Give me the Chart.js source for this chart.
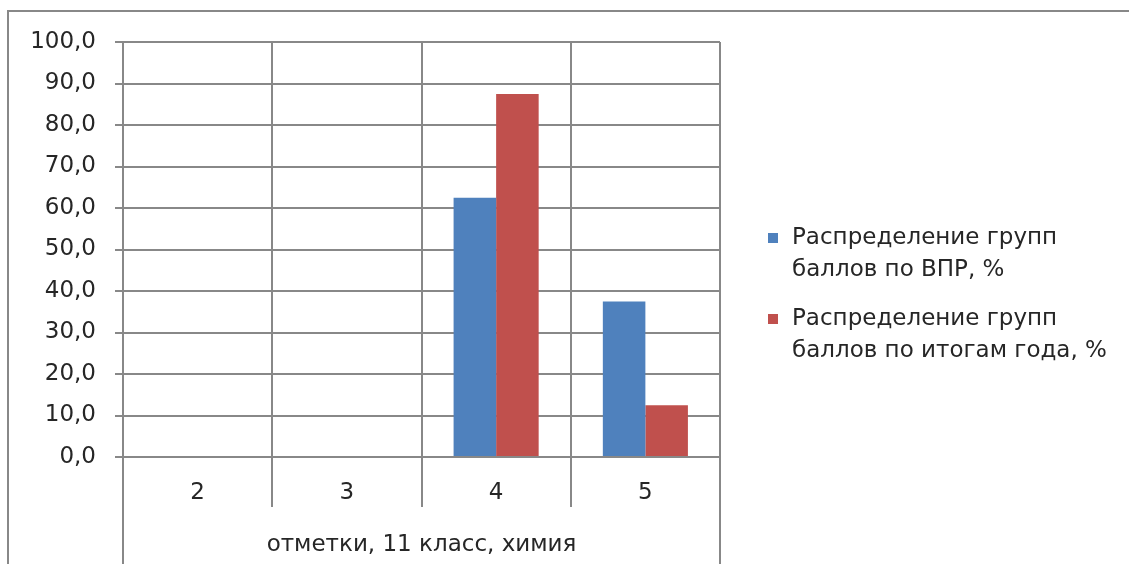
<!DOCTYPE html>
<html>
<head>
<meta charset="utf-8">
<script src="https://cdn.jsdelivr.net/npm/chart.js@4.4.1/dist/chart.umd.min.js"></script>
<style>
  html, body { margin: 0; padding: 0; background: #ffffff; }
  #wrap { width: 1129px; height: 564px; position: relative; }
</style>
</head>
<body>
<div id="wrap"><canvas id="c" width="1129" height="564"></canvas></div>
<script>
// ---- data ----
const categories = ["2", "3", "4", "5"];
const vprValues = [0, 0, 62.5, 37.5];
const yearValues = [0, 0, 87.5, 12.5];
const seriesLines = [
  ["Распределение групп", "баллов по ВПР, %"],
  ["Распределение групп", "баллов по итогам года, %"]
];
const axisTitle = "отметки, 11 класс, химия";
const yTickMin = 0, yTickMax = 100, yTickStep = 10;

const FONT = "'DejaVu Sans', sans-serif";
const FONT_SIZE = 23;
const GRID = "#888888";
const TEXT = "#262626";
const COLORS = ["#4F81BD", "#C0504D"];

const framePlugin = {
  id: 'frame',
  beforeDraw(chart) {
    const ctx = chart.ctx;
    ctx.save();
    ctx.strokeStyle = GRID;
    ctx.lineWidth = 2;
    ctx.beginPath();
    ctx.moveTo(8, 564);
    ctx.lineTo(8, 11);
    ctx.lineTo(1129, 11);
    ctx.stroke();
    ctx.restore();
  },
  afterDraw(chart) {
    const ctx = chart.ctx;
    const xs = chart.scales.x;
    const n = categories.length;
    const w = (xs.right - xs.left) / n;
    const base = chart.chartArea.bottom;
    ctx.save();
    ctx.strokeStyle = GRID;
    ctx.lineWidth = 2;
    for (let i = 0; i <= n; i++) {
      const x = Math.round(xs.left + i * w);
      const end = (i === 0 || i === n) ? 564 : base + 50;
      ctx.beginPath();
      ctx.moveTo(x, base);
      ctx.lineTo(x, end);
      ctx.stroke();
    }
    // legend
    ctx.font = FONT_SIZE + "px " + FONT;
    ctx.textBaseline = "middle";
    ctx.textAlign = "left";
    const startY = 238, lineGap = 32, blockGap = 81;
    chart.data.datasets.forEach((ds, k) => {
      const y0 = startY + k * blockGap;
      ctx.fillStyle = ds.backgroundColor;
      ctx.fillRect(768, y0 - 5, 10, 10);
      ctx.fillStyle = TEXT;
      seriesLines[k].forEach((ln, j) => {
        ctx.fillText(ln, 792, y0 + j * lineGap);
      });
    });
    ctx.restore();
  }
};

new Chart(document.getElementById('c'), {
  type: 'bar',
  data: {
    labels: categories,
    datasets: [
      { label: seriesLines[0].join(' '), data: vprValues, backgroundColor: COLORS[0], borderWidth: 0 },
      { label: seriesLines[1].join(' '), data: yearValues, backgroundColor: COLORS[1], borderWidth: 0 }
    ]
  },
  options: {
    responsive: false,
    animation: false,
    events: [],
    layout: { padding: { left: 0, top: 42, right: 409, bottom: 0 } },
    datasets: { bar: { categoryPercentage: 0.57, barPercentage: 1.0 } },
    plugins: { legend: { display: false }, tooltip: { enabled: false }, title: { display: false } },
    scales: {
      x: {
        offset: true,
        grid: { offset: true, color: GRID, lineWidth: 2, drawTicks: false },
        border: { display: false },
        ticks: { color: TEXT, font: { family: FONT, size: FONT_SIZE }, padding: 22 },
        title: { display: true, text: axisTitle, color: TEXT, font: { family: FONT, size: FONT_SIZE }, padding: { top: 0, bottom: 5 } },
        afterFit(s) { s.height = 107; }
      },
      y: {
        min: yTickMin, max: yTickMax,
        ticks: {
          stepSize: yTickStep, color: TEXT, padding: 19,
          font: { family: FONT, size: FONT_SIZE },
          callback: v => v.toFixed(1).replace('.', ',')
        },
        grid: { color: GRID, lineWidth: 2, tickLength: 8 },
        border: { display: true, color: GRID, width: 2 },
        afterFit(s) { s.width = 123; }
      }
    }
  },
  plugins: [framePlugin]
});
</script>
</body>
</html>
